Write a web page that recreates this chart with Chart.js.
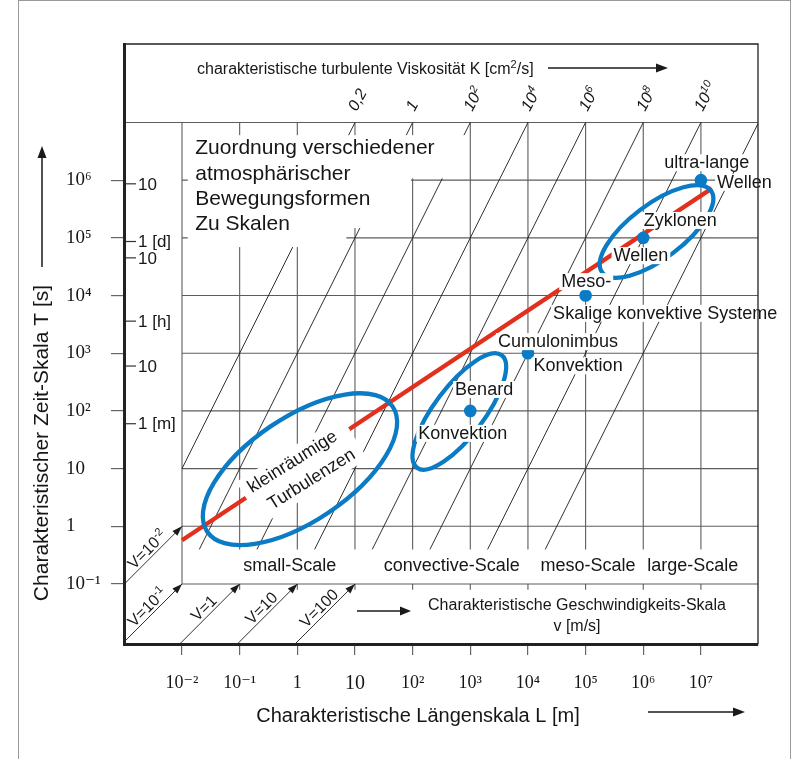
<!DOCTYPE html>
<html>
<head>
<meta charset="utf-8">
<script src="https://cdn.jsdelivr.net/npm/chart.js@4.4.1/dist/chart.umd.min.js"></script>
<style>
html,body{margin:0;padding:0;background:#fff;}
#box{position:relative;width:797px;height:759px;}
</style>
</head>
<body>
<div id="box"><canvas id="chart" width="797" height="759"></canvas></div>
<script>
// ---------------- values ----------------
const lengthTicks = [1e-2, 1e-1, 1, 10, 1e2, 1e3, 1e4, 1e5, 1e6, 1e7];
const lengthTickLabels = ['10⁻²','10⁻¹','1','10','10²','10³','10⁴','10⁵','10⁶','10⁷'];
const timeTicks = [1e-1, 1, 10, 1e2, 1e3, 1e4, 1e5, 1e6];
const timeTickLabels = ['10⁻¹','1','10','10²','10³','10⁴','10⁵','10⁶'];
const clockSeconds = [864000, 86400, 45000, 3600, 600, 60];
const clockLabels = ['10','1 [d]','10','1 [h]','10','1 [m]'];
const gridLengths = [1e-2, 1e-1, 1, 10, 1e2, 1e3, 1e4, 1e5, 1e6, 1e7];
const gridTimes = [1e-1, 1, 10, 1e2, 1e3, 1e4, 1e5, 1e6, 1e7];
const viscosityLabels = ['0,2','1','10²','10⁴','10⁶','10⁸','10¹⁰',''];
const viscosityTopLength = [10, 1e2, 1e3, 1e4, 1e5, 1e6, 1e7, 1e8]; // L where each K line meets T = 10^7
const velocities = [1e-2, 1e-1, 1, 10, 100];
const velocityLabels = ['V=10⁻²','V=10⁻¹','V=1','V=10','V=100'];
const velocityTipTime = [1, 1e-1, 1e-1, 1e-1, 1e-1];
const phenomenaLength = [1e3, 1e4, 1e5, 1e6, 1e7];
const phenomenaTime = [1e2, 1e3, 1e4, 1e5, 1e6];
const trendLength = [1e-2, 1.55e7];
const trendTime = [0.575, 7.2e5];
const scaleNames = ['small-Scale','convective-Scale','meso-Scale','large-Scale'];
const phenomenaTexts = ['ultra-lange','Wellen','Zyklonen','Wellen','Meso-','Skalige konvektive Systeme','Cumulonimbus','Konvektion','Benard','Konvektion'];
const turbulenceTexts = ['kleinräumige','Turbulenzen'];
const boxTexts = ['Zuordnung verschiedener','atmosphärischer','Bewegungsformen','Zu Skalen'];

// ---------------- layout (log10 units / pixels) ----------------
const SANS = "'Liberation Sans', Arial, Helvetica, sans-serif";
const SERIF = "'Liberation Serif', 'DejaVu Serif', 'Times New Roman', serif";
const AX = { lMin: -3.006, lMax: 7.99, tMin: -2.04, tMax: 8.36, gridBottom: -0.4, gridTop: 7 };
const phenomenaPos = [[7.10,6.31,'center'],[7.28,5.97,'left'],[6.64,5.31,'center'],[5.96,4.70,'center'],[5.01,4.25,'center'],[6.38,3.70,'center'],[4.52,3.21,'center'],[4.87,2.79,'center'],[3.24,2.38,'center'],[2.87,1.62,'center']];
const scaleNamePos = [[-0.13,-0.69],[2.68,-0.69],[5.04,-0.69],[6.86,-0.69]];
const ellipses = [ // centre (log L, log T), semi axes (decades), angle (deg)
  {l:0.046, t:0.99, a:1.94, b:0.90, ang:34},
  {l:2.81, t:1.99, a:1.22, b:0.43, ang:53},
  {l:6.23, t:5.11, a:1.18, b:0.47, ang:37}
];
const boxMask = [[-1.9,2.97,6.03,6.78],[-1.9,1.97,5.17,6.06],[-1.9,0.85,4.84,5.21]];
const boxTextPos = {l:-1.77, t:[6.45,6.0,5.567,5.134]};
const turbulencePos = {l:0.08, t:0.97, ang:-32};

const C_GRID = '#5c5c5c', C_LINE = '#1a1a1a', C_RED = '#e2301e', C_BLUE = '#0a7bc4', C_TEXT = '#161616';

// ---------------- datasets ----------------
function lineDs(points, color, width, order) {
  return { data: points, showLine: true, borderColor: color, borderWidth: width,
    pointRadius: 0, pointHoverRadius: 0, fill: false, tension: 0, order: order };
}
const datasets = [];
const LMIN = 10 ** AX.lMin, LMAX = 10 ** AX.lMax, TMIN = 10 ** AX.tMin;
const GB = 10 ** AX.gridBottom, GT = 10 ** AX.gridTop;
gridTimes.forEach(t => {
  const x0 = t === GT ? LMIN : gridLengths[0];
  datasets.push(lineDs([{x:x0,y:t},{x:LMAX,y:t}], C_GRID, 1.1, 5));
});
gridLengths.forEach((l, i) => {
  if (i === 0) {
    datasets.push(lineDs([{x:l,y:1e-1},{x:l,y:GT}], C_GRID, 1.1, 5));
  } else {
    datasets.push(lineDs([{x:l,y:GB},{x:l,y:GT}], C_GRID, 1.1, 5));
    datasets.push(lineDs([{x:l,y:1e-1},{x:l,y:10 ** -1.1}], C_GRID, 1.1, 5));
  }
});
viscosityTopLength.forEach(lt => {
  let lLow = lt * Math.sqrt(GB / GT), tLow = GB;
  if (lLow < gridLengths[0]) { lLow = gridLengths[0]; tLow = GT * (lLow / lt) ** 2; }
  let lHigh = lt, tHigh = GT;
  if (lHigh > LMAX) { lHigh = LMAX; tHigh = GT * (lHigh / lt) ** 2; }
  datasets.push(lineDs([{x:lLow,y:tLow},{x:lHigh,y:tHigh}], C_LINE, 0.9, 4));
});
const velocitySegments = velocities.map((v, i) => {
  const tip = {x: v * velocityTipTime[i], y: velocityTipTime[i]};
  let start = {x: v * TMIN, y: TMIN};
  if (start.x < LMIN) start = {x: LMIN, y: LMIN / v};
  return [start, tip];
});
velocitySegments.forEach(s => datasets.push(lineDs(s, C_LINE, 0.9, 3)));
datasets.push(lineDs(trendLength.map((l, i) => ({x:l, y:trendTime[i]})), C_RED, 4.3, 1));
datasets.push({ data: phenomenaLength.map((l, i) => ({x:l, y:phenomenaTime[i]})), showLine: false,
  pointRadius: 6.3, pointBackgroundColor: C_BLUE, pointBorderWidth: 0, pointHoverRadius: 6.3, order: 0 });

// ---------------- drawing helpers ----------------
function arrow(ctx, x0, y0, x1, y1, head, half, width) {
  const ang = Math.atan2(y1 - y0, x1 - x0), c = Math.cos(ang), s = Math.sin(ang);
  ctx.lineWidth = width;
  ctx.beginPath(); ctx.moveTo(x0, y0); ctx.lineTo(x1 - c * head * 0.7, y1 - s * head * 0.7); ctx.stroke();
  ctx.beginPath(); ctx.moveTo(x1, y1);
  ctx.lineTo(x1 - head * c + half * s, y1 - head * s - half * c);
  ctx.lineTo(x1 - head * c - half * s, y1 - head * s + half * c);
  ctx.closePath(); ctx.fill();
}
const SUP = {'⁰':'0','¹':'1','²':'2','³':'3','⁴':'4','⁵':'5','⁶':'6','⁷':'7','⁸':'8','⁹':'9','⁻':'-'};
// draws text whose superscript characters are rendered as smaller raised glyphs
function richText(ctx, text, x, y, size, style, align) {
  const parts = [];
  for (const ch of text) {
    const sup = ch in SUP;
    const c = sup ? SUP[ch] : ch;
    if (parts.length && parts[parts.length - 1].sup === sup) parts[parts.length - 1].t += c;
    else parts.push({t: c, sup});
  }
  const fN = `${style} ${size}px ${SANS}`, fS = `${style} ${Math.round(size * 0.66)}px ${SANS}`;
  let total = 0;
  parts.forEach(p => { ctx.font = p.sup ? fS : fN; p.w = ctx.measureText(p.t).width; total += p.w; });
  let cx = align === 'center' ? x - total / 2 : x;
  ctx.textAlign = 'left'; ctx.textBaseline = 'alphabetic';
  parts.forEach(p => {
    ctx.font = p.sup ? fS : fN;
    ctx.fillText(p.t, cx, p.sup ? y - size * 0.38 : y);
    cx += p.w;
  });
}

const overlay = {
  id: 'overlay',
  afterDatasetsDraw(chart) {
    const {ctx, chartArea: A, scales: {x: xs, y: ys}} = chart;
    const XE = e => xs.getPixelForValue(10 ** e), YE = e => ys.getPixelForValue(10 ** e);
    const dx = xs.getPixelForValue(10) - xs.getPixelForValue(1);
    const dy = ys.getPixelForValue(1) - ys.getPixelForValue(10);
    ctx.save();
    // white mask behind the title box
    ctx.fillStyle = '#fff';
    boxMask.forEach(r => { const x0 = XE(r[0]), x1 = XE(r[1]), y0 = YE(r[3]), y1 = YE(r[2]); ctx.fillRect(x0, y0, x1 - x0, y1 - y0); });
    // ellipses
    ctx.strokeStyle = C_BLUE; ctx.lineWidth = 4.3;
    ellipses.forEach(e => {
      ctx.beginPath();
      ctx.ellipse(XE(e.l), YE(e.t), e.a * dx, e.b * dy, -e.ang * Math.PI / 180, 0, Math.PI * 2);
      ctx.stroke();
    });
    // turbulence block (rotated, white backing)
    {
      const cx = XE(turbulencePos.l), cy = YE(turbulencePos.t);
      ctx.save(); ctx.translate(cx, cy); ctx.rotate(turbulencePos.ang * Math.PI / 180);
      ctx.fillStyle = '#fff'; ctx.fillRect(-62, -25, 124, 50);
      ctx.fillStyle = C_TEXT; ctx.font = `18px ${SANS}`; ctx.textAlign = 'center'; ctx.textBaseline = 'middle';
      ctx.fillText(turbulenceTexts[0], -3.5, -12);
      ctx.fillText(turbulenceTexts[1], 3.5, 13);
      ctx.restore();
    }
    // phenomena labels
    ctx.font = `18px ${SANS}`; ctx.textBaseline = 'middle';
    phenomenaTexts.forEach((t, i) => {
      const [l, tt, al] = phenomenaPos[i];
      const x = XE(l), y = YE(tt), w = ctx.measureText(t).width;
      const x0 = al === 'left' ? x : x - w / 2;
      ctx.fillStyle = '#fff'; ctx.fillRect(x0 - 2, y - 8, w + 4, 17);
      ctx.fillStyle = C_TEXT; ctx.textAlign = al; ctx.fillText(t, x, y + 1);
    });
    // title box text
    ctx.font = `21px ${SANS}`; ctx.textAlign = 'left'; ctx.textBaseline = 'alphabetic'; ctx.fillStyle = C_TEXT;
    boxTexts.forEach((t, i) => ctx.fillText(t, XE(boxTextPos.l), YE(boxTextPos.t[i])));
    // K labels
    viscosityLabels.forEach((t, i) => {
      if (!t) return;
      const x = xs.getPixelForValue(viscosityTopLength[i]), y = ys.getPixelForValue(GT);
      ctx.save(); ctx.translate(x - 3, y - 13); ctx.rotate(-62 * Math.PI / 180);
      ctx.fillStyle = C_TEXT; richText(ctx, t, 0, 5.5, 16, 'italic', 'left'); ctx.restore();
    });
    // velocity arrowheads + labels
    ctx.fillStyle = C_LINE; ctx.strokeStyle = C_LINE;
    velocitySegments.forEach((s, i) => {
      const x0 = xs.getPixelForValue(s[0].x), y0 = ys.getPixelForValue(s[0].y);
      const x1 = xs.getPixelForValue(s[1].x), y1 = ys.getPixelForValue(s[1].y);
      const ang = Math.atan2(y1 - y0, x1 - x0), c = Math.cos(ang), sn = Math.sin(ang);
      ctx.beginPath(); ctx.moveTo(x1, y1);
      ctx.lineTo(x1 - 10 * c + 3.5 * sn, y1 - 10 * sn - 3.5 * c);
      ctx.lineTo(x1 - 10 * c - 3.5 * sn, y1 - 10 * sn + 3.5 * c);
      ctx.closePath(); ctx.fill();
      const mx = x0 + (x1 - x0) * 0.5, my = y0 + (y1 - y0) * 0.5;
      ctx.save(); ctx.translate(mx, my); ctx.rotate(ang);
      richText(ctx, velocityLabels[i], 0, -3, 16, 'normal', 'center');
      ctx.restore();
    });
    // scale names
    ctx.font = `18px ${SANS}`; ctx.textAlign = 'center'; ctx.textBaseline = 'middle'; ctx.fillStyle = C_TEXT;
    scaleNames.forEach((t, i) => ctx.fillText(t, XE(scaleNamePos[i][0]), YE(scaleNamePos[i][1])));
    // velocity scale caption
    ctx.font = `16px ${SANS}`;
    ctx.fillText('Charakteristische Geschwindigkeits-Skala', 577, 606);
    ctx.fillText('v [m/s]', 577, 627);
    ctx.fillStyle = C_LINE; ctx.strokeStyle = C_LINE;
    arrow(ctx, 357, 611, 411, 611, 11, 4.5, 1.5);
    // clock ticks to the right of the time axis
    ctx.strokeStyle = '#333'; ctx.lineWidth = 1.2; ctx.font = `17px ${SANS}`; ctx.textAlign = 'left'; ctx.fillStyle = C_TEXT;
    clockSeconds.forEach((s, i) => {
      const y = ys.getPixelForValue(s);
      ctx.beginPath(); ctx.moveTo(A.left, y); ctx.lineTo(A.left + 12, y); ctx.stroke();
      ctx.fillText(clockLabels[i], A.left + 14, y + 1);
    });
    // top + right frame of the plot box
    ctx.strokeStyle = '#222'; ctx.lineWidth = 1.3;
    ctx.beginPath(); ctx.moveTo(A.left, A.top); ctx.lineTo(A.right, A.top); ctx.lineTo(A.right, A.bottom); ctx.stroke();
    // K caption
    ctx.fillStyle = C_TEXT;
    richText(ctx, 'charakteristische turbulente Viskosität K [cm²/s]', 197, 74, 16, 'normal', 'left');
    ctx.fillStyle = C_LINE; ctx.strokeStyle = C_LINE;
    arrow(ctx, 548, 68, 668, 68, 12, 4.5, 1.5);
    // axis titles
    ctx.fillStyle = C_TEXT; ctx.font = `20px ${SANS}`; ctx.textAlign = 'center'; ctx.textBaseline = 'middle';
    ctx.fillText('Charakteristische Längenskala L [m]', 418, 716);
    ctx.font = `21px ${SANS}`;
    ctx.save(); ctx.translate(42, 443); ctx.rotate(-Math.PI / 2);
    ctx.fillText('Charakteristischer Zeit-Skala T [s]', 0, 0); ctx.restore();
    ctx.fillStyle = C_LINE; ctx.strokeStyle = C_LINE;
    arrow(ctx, 648, 712, 745, 712, 12, 4.5, 1.5);
    arrow(ctx, 42, 267, 42, 146, 12, 4.5, 1.5);
    // outer frame
    ctx.strokeStyle = '#9a9a9a'; ctx.lineWidth = 1;
    ctx.strokeRect(18.5, 0.5, 772, 770);
    ctx.restore();
  }
};

new Chart(document.getElementById('chart'), {
  type: 'scatter',
  data: { datasets: datasets },
  options: {
    responsive: false, animation: false, events: [],
    layout: { padding: { left: 66, right: 39, top: 44, bottom: 0 } },
    plugins: { legend: { display: false }, tooltip: { enabled: false } },
    scales: {
      x: {
        type: 'logarithmic', position: 'bottom', min: 10 ** AX.lMin, max: 10 ** AX.lMax,
        afterBuildTicks: s => { s.ticks = lengthTicks.map(v => ({value: v})); },
        afterFit: s => { s.height = 115; },
        ticks: { autoSkip: false, maxRotation: 0, padding: 17, color: C_TEXT,
          callback: (v, i) => lengthTickLabels[i],
          font: c => ({ family: SERIF, size: c.index === 3 ? 20 : 18 }) },
        grid: { drawOnChartArea: false, drawTicks: true, tickLength: 11, color: '#666', lineWidth: 1.2 },
        border: { display: true, width: 3, color: '#222', z: 1 }
      },
      y: {
        type: 'logarithmic', position: 'left', min: 10 ** AX.tMin, max: 10 ** AX.tMax,
        afterBuildTicks: s => { s.ticks = timeTicks.map(v => ({value: v})); },
        afterFit: s => { s.width = 58; },
        ticks: { autoSkip: false, crossAlign: 'far', color: C_TEXT,
          callback: (v, i) => timeTickLabels[i],
          font: { family: SERIF, size: 19 } },
        grid: { drawOnChartArea: false, drawTicks: true, tickLength: 13, color: '#666', lineWidth: 1.2 },
        border: { display: true, width: 3, color: '#222', z: 1 }
      }
    }
  },
  plugins: [overlay]
});
</script>
</body>
</html>
